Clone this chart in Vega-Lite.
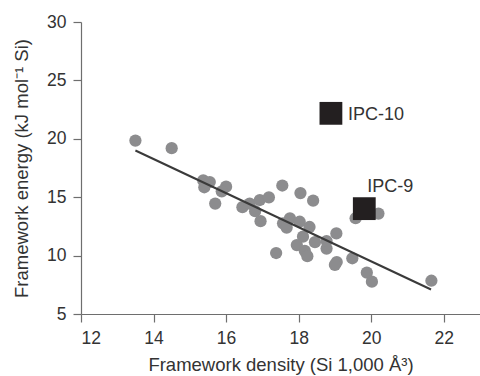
{
  "$schema": "https://vega.github.io/schema/vega-lite/v6.json",
  "autosize": {"type": "none"},
  "padding": {"left": 81, "top": 22, "right": 0, "bottom": 62},
  "width": 399,
  "height": 292,
  "config": {
    "view": {"stroke": null},
    "font": "Liberation Sans",
    "axis": {
      "grid": false,
      "domainColor": "#6e6e6e",
      "tickColor": "#6e6e6e",
      "tickSize": 8,
      "domainWidth": 1.2,
      "tickWidth": 1.2,
      "labelFontSize": 17.5,
      "labelColor": "#333333",
      "titleFontSize": 18.5,
      "titleFontWeight": "normal",
      "titleColor": "#333333",
      "labelPadding": 7
    }
  },
  "datasets": {
    "zeolites": [
      {"density": 13.5, "energy": 19.85},
      {"density": 14.5, "energy": 19.2},
      {"density": 15.37, "energy": 16.44},
      {"density": 15.55, "energy": 16.3},
      {"density": 15.4, "energy": 15.85},
      {"density": 16.0, "energy": 15.9},
      {"density": 15.88, "energy": 15.5},
      {"density": 15.7, "energy": 14.45},
      {"density": 16.45, "energy": 14.15},
      {"density": 16.65, "energy": 14.45},
      {"density": 16.93, "energy": 14.76},
      {"density": 17.18, "energy": 14.99},
      {"density": 16.8, "energy": 13.8},
      {"density": 16.95, "energy": 12.95},
      {"density": 17.38, "energy": 10.22},
      {"density": 17.55, "energy": 16.0},
      {"density": 18.05, "energy": 15.35},
      {"density": 18.4, "energy": 14.7},
      {"density": 17.57, "energy": 12.76},
      {"density": 17.76, "energy": 13.19},
      {"density": 18.03, "energy": 12.9},
      {"density": 18.3, "energy": 12.45},
      {"density": 17.67, "energy": 12.4},
      {"density": 18.12, "energy": 11.62},
      {"density": 17.95, "energy": 10.9},
      {"density": 18.17, "energy": 10.4},
      {"density": 18.24, "energy": 9.95},
      {"density": 18.45, "energy": 11.15},
      {"density": 18.77, "energy": 10.6},
      {"density": 18.77, "energy": 11.25},
      {"density": 19.04, "energy": 11.9},
      {"density": 19.05, "energy": 9.45},
      {"density": 19.0, "energy": 9.2},
      {"density": 19.48, "energy": 9.77},
      {"density": 19.57, "energy": 13.2},
      {"density": 20.2, "energy": 13.6},
      {"density": 19.88, "energy": 8.54},
      {"density": 20.02, "energy": 7.77},
      {"density": 21.66, "energy": 7.85}
    ],
    "fit": [
      {"density": 13.5, "energy": 19.0},
      {"density": 21.65, "energy": 7.1}
    ],
    "ipc": [
      {"name": "IPC-10", "density": 18.89, "energy": 22.18},
      {"name": "IPC-9", "density": 19.81, "energy": 14.02}
    ]
  },
  "encoding": {
    "x": {
      "field": "density",
      "type": "quantitative",
      "scale": {"domain": [12, 23], "nice": false, "zero": false},
      "axis": {"values": [12, 14, 16, 18, 20, 22], "title": "Framework density (Si 1,000 Å³)", "titlePadding": 9}
    },
    "y": {
      "field": "energy",
      "type": "quantitative",
      "scale": {"domain": [5, 30], "nice": false, "zero": false},
      "axis": {"values": [5, 10, 15, 20, 25, 30], "title": "Framework energy (kJ mol⁻¹ Si)", "titlePadding": 15}
    }
  },
  "layer": [
    {
      "data": {"name": "zeolites"},
      "mark": {"type": "circle", "size": 150, "color": "#8c8c8e", "opacity": 1}
    },
    {
      "data": {"name": "fit"},
      "mark": {"type": "line", "color": "#3a3a3a", "strokeWidth": 2}
    },
    {
      "data": {"name": "ipc"},
      "mark": {"type": "square", "size": 520, "color": "#231f20", "opacity": 1, "filled": true}
    },
    {
      "data": {"name": "ipc"},
      "transform": [{"filter": "datum.name === 'IPC-10'"}],
      "mark": {"type": "text", "align": "left", "baseline": "middle", "dx": 17, "dy": 2, "fontSize": 18, "color": "#333333"},
      "encoding": {"text": {"field": "name"}}
    },
    {
      "data": {"name": "ipc"},
      "transform": [{"filter": "datum.name === 'IPC-9'"}],
      "mark": {"type": "text", "align": "left", "baseline": "middle", "dx": 3, "dy": -22, "fontSize": 18, "color": "#333333"},
      "encoding": {"text": {"field": "name"}}
    }
  ]
}
